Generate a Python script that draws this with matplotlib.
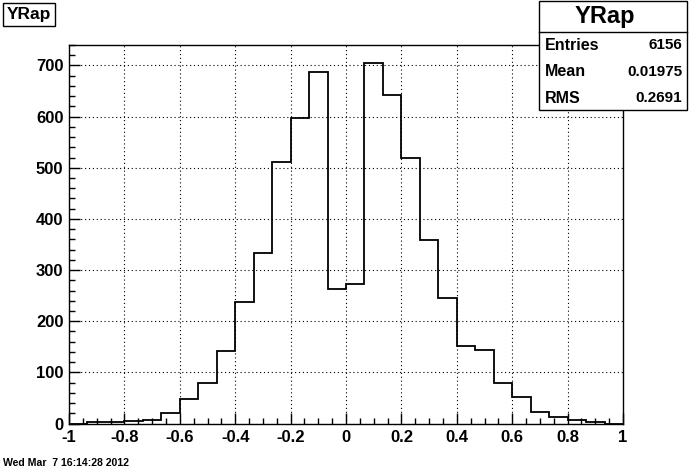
import numpy as np
import matplotlib
matplotlib.use("Agg")
import matplotlib.pyplot as plt
from matplotlib.patches import Rectangle
from matplotlib.ticker import MultipleLocator

plt.rcParams['font.family'] = ['Liberation Sans', 'DejaVu Sans']

# Data: 30 bins from -1 to 1
bin_edges = np.linspace(-1, 1, 31)
counts = [0, 2, 3, 5, 6, 21, 47, 80, 141, 238, 333, 512, 598, 688, 262,
          273, 705, 643, 520, 358, 246, 152, 143, 80, 52, 23, 13, 6, 2, 0]
x_ticks = [-1, -0.8, -0.6, -0.4, -0.2, 0, 0.2, 0.4, 0.6, 0.8, 1]
x_tick_labels = ["-1", "-0.8", "-0.6", "-0.4", "-0.2", "0", "0.2", "0.4", "0.6", "0.8", "1"]
y_ticks = [0, 100, 200, 300, 400, 500, 600, 700]
title = "YRap"
stats_labels = ["Entries", "Mean", "RMS"]
stats_values = ["6156", "0.01975", "0.2691"]
date_text = "Wed Mar  7 16:14:28 2012"

W, H = 694, 472
fig = plt.figure(figsize=(W / 100, H / 100), dpi=100)
fig.patch.set_facecolor("white")

def fx(px):
    return px / W

def fy(py):
    return 1 - py / H

ax = fig.add_axes([fx(69), fy(423.5), fx(623) - fx(69), fy(45) - fy(423.5)])
ax.stairs(counts, bin_edges, color="black", linewidth=1.3, baseline=None, zorder=3)
ax.set_xlim(-1, 1)
ax.set_ylim(0, 740)

ax.set_xticks(x_ticks)
ax.set_xticklabels(x_tick_labels)
ax.set_yticks(y_ticks)
ax.xaxis.set_minor_locator(MultipleLocator(0.05))
ax.yaxis.set_minor_locator(MultipleLocator(20))
ax.tick_params(axis="both", which="major", direction="in", length=8, width=1,
               labelsize=12, top=False, right=False)
ax.tick_params(axis="both", which="minor", direction="in", length=4.5, width=1,
               top=False, right=False)
ax.tick_params(axis="x", which="major", pad=4.5)
ax.tick_params(axis="y", which="major", pad=4)
for lab in ax.get_xticklabels() + ax.get_yticklabels():
    lab.set_fontweight("bold")
ax.grid(True, which="major", color="black", linestyle=(0, (1, 2.5)), linewidth=0.8)
for s in ax.spines.values():
    s.set_linewidth(1)

# Title box (top-left)
fig.patches.append(Rectangle((fx(3), fy(26)), fx(55) - fx(3), fy(3) - fy(26),
                             transform=fig.transFigure, facecolor="white",
                             edgecolor="black", linewidth=1, zorder=5))
fig.text(fx(29), fy(14.5), title, ha="center", va="center", fontsize=12.5,
         fontweight="bold", zorder=6)

# Stats box (top-right)
bx0, bx1, by0, by1 = 538.5, 687, 1, 110
fig.patches.append(Rectangle((fx(bx0), fy(by1)), fx(bx1) - fx(bx0), fy(by0) - fy(by1),
                             transform=fig.transFigure, facecolor="white",
                             edgecolor="black", linewidth=1, zorder=5))
fig.lines.append(plt.Line2D([fx(bx0), fx(bx1)], [fy(32.3), fy(32.3)],
                            transform=fig.transFigure, color="black", linewidth=1, zorder=6))
fig.text(fx(605), fy(16), title, ha="center", va="center", fontsize=17,
         fontweight="bold", zorder=6)
row_y = [45, 72, 98.5]
for lab, val, yy in zip(stats_labels, stats_values, row_y):
    fig.text(fx(545), fy(yy), lab, ha="left", va="center", fontsize=11.5,
             fontweight="bold", zorder=6)
    fig.text(fx(682), fy(yy), val, ha="right", va="center", fontsize=11,
             fontweight="bold", zorder=6)

# Date stamp
fig.text(fx(3), fy(463), date_text, ha="left", va="center", fontsize=7.6,
         fontweight="bold")

fig.savefig("out.png", dpi=100, facecolor="white")
